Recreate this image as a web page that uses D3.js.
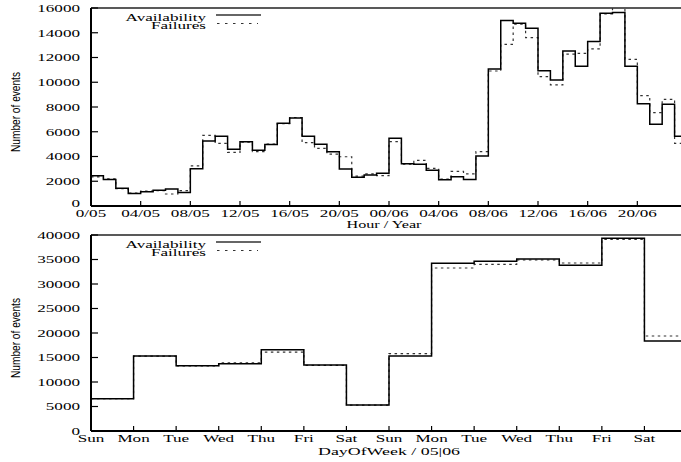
<!DOCTYPE html>
<html><head><meta charset="utf-8">
<script src="https://cdn.jsdelivr.net/npm/d3@7"></script>
<style>
html,body{margin:0;padding:0;background:#fff;}
svg{display:block;}
text{font-family:"Liberation Serif","Times New Roman",serif;fill:#000;}
</style></head>
<body>
<svg id="chart" width="681" height="462"></svg>
<script>
// ---- data ----
const hourTickLabels = ["0/05","04/05","08/05","12/05","16/05","20/05","00/06","04/06","08/06","12/06","16/06","20/06"];
const availHour = [2450,2150,1430,1020,1160,1270,1370,1100,3010,5250,
                   5630,4580,5200,4500,4960,6680,7110,5630,4980,4390,
                   2990,2320,2500,2640,5470,3420,3370,2880,2130,2370,
                   2150,4040,11070,15000,14760,14360,10930,10180,12530,11290,
                   13300,15570,15630,11290,8270,6600,8220,5630];
const failHour  = [2350,2200,1400,1050,1200,1250,970,1250,3250,5710,
                   5060,4340,5150,4400,5000,6650,7150,5120,4660,4200,
                   3980,2420,2600,2450,5200,3380,3690,3040,2180,2800,
                   2590,4390,10910,13060,14700,13600,10450,9780,12280,12340,
                   12690,15520,16100,11850,8920,7540,8620,5060];
const dayLabels = ["Sun","Mon","Tue","Wed","Thu","Fri","Sat","Sun","Mon","Tue","Wed","Thu","Fri","Sat"];
const availDay = [6600,15300,13330,13740,16600,13470,5300,15300,34220,34630,35100,33810,39320,18370];
const failDay  = [6600,15300,13300,13900,16100,13400,5300,15780,33270,34010,34900,34290,39100,19390];
const topYTicks = [0,2000,4000,6000,8000,10000,12000,14000,16000];
const botYTicks = [0,5000,10000,15000,20000,25000,30000,35000,40000];
const seriesNames = ["Availability","Failures"];

// ---- layout ----
const svg = d3.select("#chart");
const SX = 1.63, FS = 10.5;
const left = 91, right = 687;

function stext(g, x, y, str, anchor) {
  g.append("g").attr("transform", `translate(${x},${y}) scale(${SX},1)`)
   .append("text").attr("text-anchor", anchor).attr("font-size", FS).text(str);
}

function panel(opts) {
  const {top, bottom, n, yMax, yTicks, tickVals, tickLabels, a, f, xTitle, xTitleW, xTitleX, xTitleY, legY, zeroShift, id} = opts;
  const x = d3.scaleLinear().domain([0, n]).range([left, right]);
  const y = d3.scaleLinear().domain([0, yMax]).range([bottom, top]);
  const g = svg.append("g");

  g.append("defs").append("clipPath").attr("id", id)
    .append("rect").attr("x", left).attr("y", top).attr("width", right - left).attr("height", bottom - top);

  // frame
  g.append("line").attr("x1", left).attr("x2", 681).attr("y1", top).attr("y2", top)
    .attr("stroke", "#222").attr("stroke-width", 1.5);

  // y ticks
  yTicks.forEach(v => {
    g.append("line").attr("x1", left).attr("x2", left + 7).attr("y1", y(v)).attr("y2", y(v))
      .attr("stroke", "#000").attr("stroke-width", 1.2);
    stext(g, 80, y(v) + 3.8 - (v === 0 ? zeroShift : 0), String(v), "end");
  });
  // x ticks
  tickVals.forEach((v, i) => {
    g.append("line").attr("x1", x(v)).attr("x2", x(v)).attr("y1", bottom).attr("y2", bottom - 5)
      .attr("stroke", "#000").attr("stroke-width", 1.2);
    stext(g, x(v), bottom + 10.5, tickLabels[i], "middle");
  });

  // series
  const line = d3.line().x(d => x(d[0])).y(d => y(d[1])).curve(d3.curveStepAfter);
  const pts = arr => arr.map((v, i) => [i, v]).concat([[arr.length, arr[arr.length - 1]]]);
  const pl = g.append("g").attr("clip-path", `url(#${id})`);
  pl.append("path").attr("d", line(pts(f))).attr("fill", "none")
    .attr("stroke", "#333").attr("stroke-width", 1.2).attr("stroke-dasharray", "2.5,3.5");
  pl.append("path").attr("d", line(pts(a))).attr("fill", "none")
    .attr("stroke", "#000").attr("stroke-width", 1.5);

  // axes lines
  g.append("line").attr("x1", left).attr("x2", left).attr("y1", top).attr("y2", bottom)
    .attr("stroke", "#000").attr("stroke-width", 2);
  g.append("line").attr("x1", left).attr("x2", 681).attr("y1", bottom).attr("y2", bottom)
    .attr("stroke", "#000").attr("stroke-width", 2);

  // legend
  stext(g, 206, legY + 4, seriesNames[0], "end");
  g.append("line").attr("x1", 216).attr("x2", 261).attr("y1", legY - 1.5).attr("y2", legY - 1.5)
    .attr("stroke", "#333").attr("stroke-width", 1.4);
  stext(g, 206, legY + 12.5, seriesNames[1], "end");
  g.append("line").attr("x1", 217).attr("x2", 258).attr("y1", legY + 7).attr("y2", legY + 7)
    .attr("stroke", "#333").attr("stroke-width", 1.2).attr("stroke-dasharray", "2.5,5.5");

  // axis titles
  g.append("text").attr("x", xTitleX).attr("y", xTitleY).attr("text-anchor", "middle")
    .attr("font-size", FS).attr("textLength", xTitleW).attr("lengthAdjust", "spacingAndGlyphs").text(xTitle);
  const cy = (top + bottom) / 2 + 5;
  g.append("text").attr("transform", `translate(19.5,${cy}) rotate(-90)`).attr("text-anchor", "middle")
    .attr("font-size", 13).attr("textLength", 80).attr("lengthAdjust", "spacingAndGlyphs")
    .style("font-family", "'Liberation Sans Narrow','Liberation Sans',sans-serif")
    .text("Number of events");
}

panel({id: "c1", top: 8, bottom: 206, n: 48, yMax: 16000, yTicks: topYTicks,
  tickVals: hourTickLabels.map((d, i) => i * 4), tickLabels: hourTickLabels,
  a: availHour, f: failHour, xTitle: "Hour / Year", xTitleW: 75, xTitleX: 384, xTitleY: 227.5,
  legY: 16.5, zeroShift: 2.5});
panel({id: "c2", top: 235, bottom: 431, n: 14, yMax: 40000, yTicks: botYTicks,
  tickVals: dayLabels.map((d, i) => i), tickLabels: dayLabels,
  a: availDay, f: failDay, xTitle: "DayOfWeek / 05|06", xTitleW: 142, xTitleX: 389, xTitleY: 454.5,
  legY: 243.5, zeroShift: 0});
</script>
</body></html>
